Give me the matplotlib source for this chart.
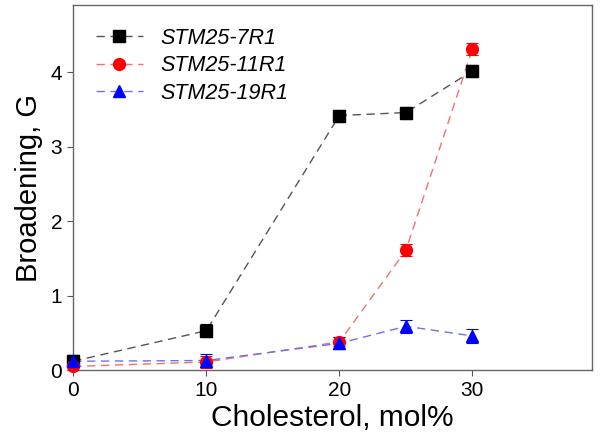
import matplotlib
matplotlib.use("Agg")
import matplotlib.pyplot as plt

plt.rcParams['font.family'] = ['Liberation Sans', 'DejaVu Sans']

# cholesterol content, mol%
chol = [0, 10, 20, 25, 30]

# broadening, G
b_7r1 = [0.12, 0.53, 3.42, 3.46, 4.02]
b_11r1 = [0.05, 0.11, 0.38, 1.61, 4.31]
b_19r1 = [0.12, 0.13, 0.36, 0.59, 0.46]

err_7r1 = [0.08, 0.09, 0.08, 0.08, 0.08]
err_11r1 = [0.05, 0.08, 0.06, 0.08, 0.08]
err_19r1 = [0.08, 0.09, 0.08, 0.09, 0.09]

labels = ['STM25-7R1', 'STM25-11R1', 'STM25-19R1']

fig = plt.figure(figsize=(6, 4.46), dpi=100)
ax = fig.add_axes([0.122, 0.170, 0.865, 0.818])

series = [
    (b_7r1, err_7r1, 's', 'black', '#555555'),
    (b_11r1, err_11r1, 'o', 'red', '#f07070'),
    (b_19r1, err_19r1, '^', 'blue', '#7070e8'),
]

for (vals, errs, mk, col, lcol), lab in zip(series, labels):
    ax.plot(chol, vals, ls=(0, (6, 4)), lw=1.0, color=lcol, zorder=2, clip_on=False)
    ax.errorbar(chol, vals, yerr=errs, fmt='none', ecolor=col, elinewidth=0.8,
                capsize=4, capthick=0.8, zorder=3, clip_on=False)
    ax.plot(chol, vals, ls='none', marker=mk, ms=8.5, color=col, zorder=4, clip_on=False)
    # legend proxy
    ax.plot([], [], ls=(0, (6, 4)), lw=1.0, color=lcol, marker=mk, ms=8.5,
            markerfacecolor=col, markeredgecolor=col, label=lab)

ax.set_xlim(0, 39)
ax.set_ylim(0, 4.9)
ax.set_xticks([0, 10, 20, 30])
ax.set_yticks([0, 1, 2, 3, 4])
ax.tick_params(direction='out', length=4, width=0.8, color='#555555',
               labelsize=15, pad=4)

for s in ax.spines.values():
    s.set_color('#666666')
    s.set_linewidth(1.0)

ax.set_xlabel('Cholesterol, mol%', fontsize=21.5, labelpad=3)
ax.set_ylabel('Broadening, G', fontsize=21, labelpad=5)

leg = ax.legend(loc='upper left', frameon=False, handlelength=2.2,
                borderaxespad=0.65, borderpad=0.4, labelspacing=0.3,
                handletextpad=0.8,
                prop={'style': 'italic', 'size': 15.5})

fig.savefig('out.png', dpi=100)
